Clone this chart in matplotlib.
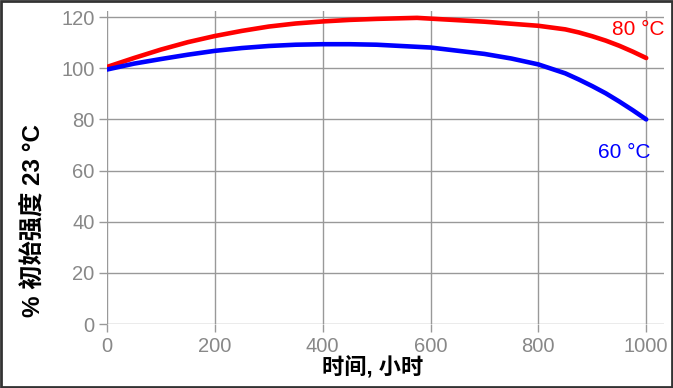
import matplotlib
matplotlib.use("Agg")
import matplotlib.pyplot as plt
from matplotlib.patches import Rectangle

# 读取自图片的数据 (时间, 小时 / % 初始强度)
t_80 = [0, 50, 100, 150, 200, 250, 300, 350, 400, 450, 500, 575, 600, 700, 800, 850, 875, 900, 925, 950, 975, 1000]
v_80 = [100.5, 104, 107.3, 110.2, 112.6, 114.6, 116.3, 117.5, 118.3, 118.9, 119.3, 119.7, 119.4,
        118.2, 116.6, 115.2, 114.0, 112.5, 110.8, 108.8, 106.5, 104.0]
t_60 = [0, 50, 100, 150, 200, 250, 300, 350, 400, 450, 500, 600, 700, 750, 800, 850, 875, 900, 925, 950, 975, 1000]
v_60 = [99.5, 101.8, 103.6, 105.3, 106.8, 107.9, 108.7, 109.2, 109.4, 109.4, 109.2, 108.1,
        105.6, 103.8, 101.5, 98.0, 95.6, 93.0, 90.2, 87.0, 83.6, 80.0]
x_ticks = [0, 200, 400, 600, 800, 1000]
y_ticks = [0, 20, 40, 60, 80, 100, 120]

plt.rcParams['font.family'] = ['Liberation Sans', 'DejaVu Sans']
lab_fonts = ['Liberation Sans', 'Noto Sans CJK SC', 'DejaVu Sans']

fig = plt.figure(figsize=(6.73, 3.88), dpi=100)
ax = fig.add_axes([107/673, 1-324/388, (664-107)/673, (324-10.7)/388])

ax.plot(t_80, v_80, color='#ff0000', lw=3.3, solid_capstyle='round', solid_joinstyle='round', zorder=3)
ax.plot(t_60, v_60, color='#0000ff', lw=3.3, solid_capstyle='round', solid_joinstyle='round', zorder=3)

ax.set_xlim(0, 1033)
ax.set_ylim(0, 122.5)
ax.set_xticks(x_ticks)
ax.set_yticks(y_ticks)
ax.grid(True, color='#999999', lw=1)
for s in ax.spines.values():
    s.set_visible(False)
ax.tick_params(colors='#999999', labelcolor='#888888', labelsize=14.5, length=6, width=1, pad=3)

ax.text(1033, 115, '80 °C', color='#ff0000', fontsize=15, ha='right', va='center')
ax.text(1008, 67, '60 °C', color='#0000ff', fontsize=15, ha='right', va='center')

ax.set_xlabel('时间, 小时', family=lab_fonts, fontsize=16, fontweight='bold')
ax.xaxis.set_label_coords(0.476, -0.106)
ax.set_ylabel('% 初始强度 23 °C', family=lab_fonts, fontsize=17.5, fontweight='bold')
ax.yaxis.set_label_coords(-0.113, 0.33)

fig.add_artist(Rectangle((0.0015, 0.0025), 0.997, 0.995, transform=fig.transFigure,
                         fill=False, edgecolor='#333333', lw=2))

fig.savefig('out.png', dpi=100)
